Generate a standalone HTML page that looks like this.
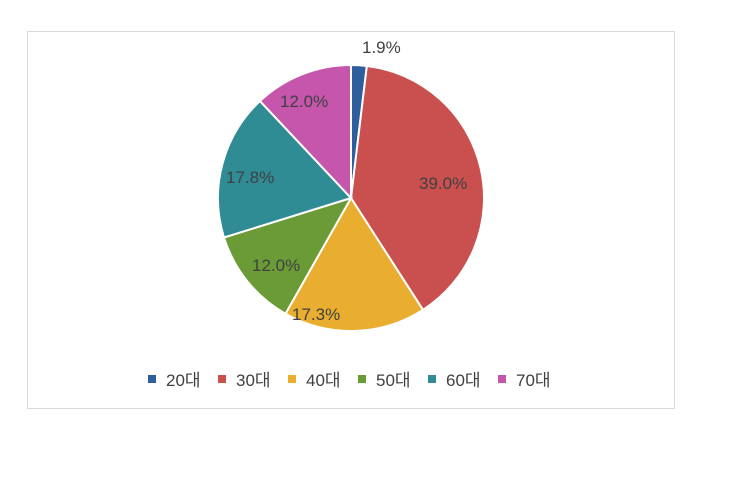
<!DOCTYPE html>
<html><head><meta charset="utf-8"><style>
body{margin:0;background:#fff;width:750px;height:504px;overflow:hidden}
svg{display:block}
text{font-family:"Liberation Sans","Noto Sans CJK KR",sans-serif;fill:#404040}
</style></head><body>
<svg id="s" width="750" height="504" xmlns="http://www.w3.org/2000/svg">
<rect x="27.5" y="31.5" width="647" height="377" fill="#fff" stroke="#d9d9d9"/>
<g id="pie"></g>
<g font-size="17">
<text x="362" y="53">1.9%</text>
<text x="419" y="189">39.0%</text>
<text x="292" y="320">17.3%</text>
<text x="252" y="271">12.0%</text>
<text x="226" y="183">17.8%</text>
<text x="280" y="107">12.0%</text>
</g>
<g font-size="17">
<rect x="148" y="375" width="8" height="8" fill="#2E5E9C"/><text x="166" y="386">20대</text>
<rect x="218" y="375" width="8" height="8" fill="#C9504F"/><text x="236" y="386">30대</text>
<rect x="288" y="375" width="8" height="8" fill="#E9AD2F"/><text x="306" y="386">40대</text>
<rect x="358" y="375" width="8" height="8" fill="#6A9B37"/><text x="376" y="386">50대</text>
<rect x="428" y="375" width="8" height="8" fill="#2F8B94"/><text x="446" y="386">60대</text>
<rect x="498" y="375" width="8" height="8" fill="#C556AC"/><text x="516" y="386">70대</text>
</g>
</svg>
<script>
var d=[1.9,39,17.3,12,17.8,12],c=["#2E5E9C","#C9504F","#E9AD2F","#6A9B37","#2F8B94","#C556AC"];
var cx=351,cy=198,r=133,a=0,h="";
for(var i=0;i<6;i++){var b=a+d[i]/100*2*Math.PI;
var x1=cx+r*Math.sin(a),y1=cy-r*Math.cos(a),x2=cx+r*Math.sin(b),y2=cy-r*Math.cos(b);
h+='<path d="M'+cx+','+cy+'L'+x1+','+y1+'A'+r+','+r+' 0 '+((b-a)>Math.PI?1:0)+' 1 '+x2+','+y2+'Z" fill="'+c[i]+'" stroke="#fff" stroke-width="2"/>';a=b;}
document.getElementById("pie").innerHTML=h;
</script>
</body></html>
